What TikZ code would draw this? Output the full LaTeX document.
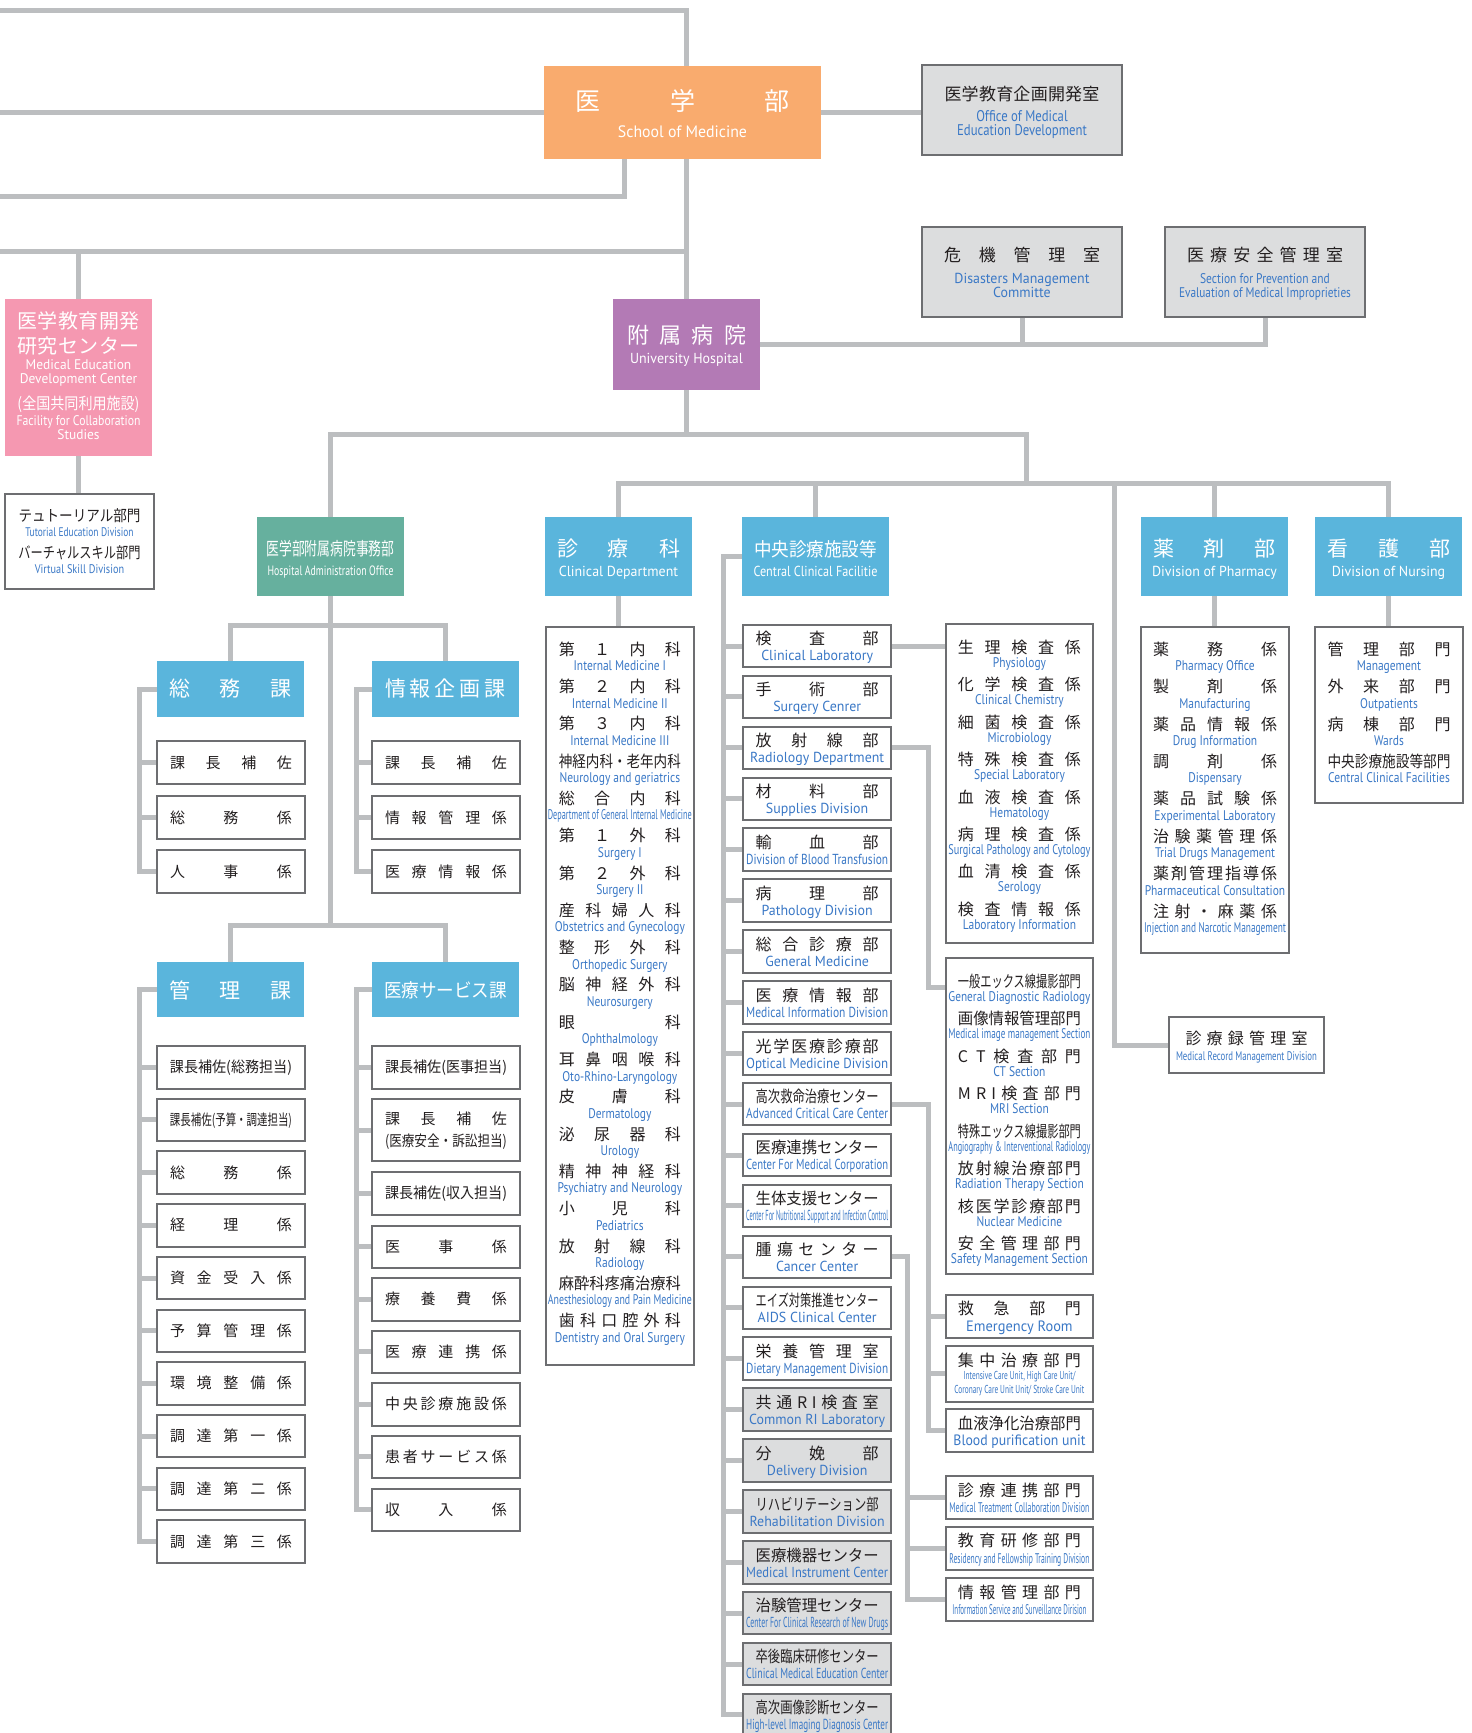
\documentclass[tikz,border=0pt]{standalone}
\usepackage{fontspec}
\usepackage{graphicx}
\setmainfont{Noto Sans CJK JP}
\newfontfamily\en[FakeStretch=0.82]{PT Sans}
\newfontfamily\enw[FakeStretch=0.96]{PT Sans}
\usetikzlibrary{backgrounds}
\definecolor{lineg}{HTML}{BCBEC0}
\definecolor{bordg}{HTML}{6D6E71}
\definecolor{boxg}{HTML}{DCDDDE}
\definecolor{orangec}{HTML}{F9AB6E}
\definecolor{purplec}{HTML}{B37AB5}
\definecolor{pinkc}{HTML}{F598B1}
\definecolor{tealc}{HTML}{66B09E}
\definecolor{blueh}{HTML}{5AB5DC}
\definecolor{etext}{HTML}{3A78C6}
\definecolor{jtext}{HTML}{231F20}
\newsavebox\jbox
\def\spreadloop#1{\ifx\relax#1\else\hfill#1\expandafter\spreadloop\fi}
\def\spreadfirst#1{#1\spreadloop}
\newcommand\jt[2]{\sbox\jbox{#2}\ifdim\wd\jbox<#1\relax\makebox[#1][s]{\expandafter\spreadfirst#2\relax}\else\resizebox{#1}{\height}{\usebox\jbox}\fi}
\newcommand\fitw[2]{\sbox\jbox{#2}\ifdim\wd\jbox>#1\relax\resizebox{#1}{\height}{\usebox\jbox}\else\usebox\jbox\fi}
\newcommand\bxn[6]{\node[#6, minimum width={#4-#2}, minimum height={#5-#3}] (#1) at (#2,#3) {};}
\tikzset{
  conn/.style={draw=lineg, line width=5pt},
  bx/.style={draw=bordg, line width=2pt, fill=white, anchor=north west, inner sep=0pt, outer sep=0pt},
  gbx/.style={bx, fill=boxg},
  hd/.style={fill=#1, draw=none, anchor=north west, inner sep=0pt, outer sep=0pt},
  jp/.style={inner sep=0pt, text=jtext, font=\fontsize{16}{16}\selectfont, text height=14pt, text depth=2pt},
  jps/.style={jp, font=\fontsize{15}{15}\selectfont, text height=13pt, text depth=2pt},
  ent/.style={inner sep=0pt, text=etext, font=\en\fontsize{14}{14}\selectfont, text height=10pt, text depth=3pt},
  enc/.style={ent, font=\enw\fontsize{14.5}{14.5}\selectfont},
  ens/.style={ent, font=\en\fontsize{12.5}{12.5}\selectfont, text height=9pt, text depth=3pt},
  wj/.style={inner sep=0pt, text=white, font=\fontsize{#1}{#1}\selectfont},
  we/.style={inner sep=0pt, text=white, font=\enw\fontsize{#1}{#1}\selectfont, text height=0.7*#1pt, text depth=0.2*#1pt},
}
\begin{document}
\begin{tikzpicture}[x=1pt,y=-1pt]
\useasboundingbox (0,0) rectangle (1472,1733);
% ---------- top level boxes ----------
\bxn{med}{544}{66}{821}{159}{hd=orangec}
\bxn{office}{922}{65}{1122}{155}{gbx}
\bxn{crisis}{922}{226.5}{1122}{317}{gbx}
\bxn{safety}{1165}{226.5}{1365}{317}{gbx}
\bxn{hosp}{613}{299}{760}{389.5}{hd=purplec}
\bxn{pink}{5}{298.5}{152}{455.5}{hd=pinkc}
\bxn{tut}{5}{493.5}{154}{589}{bx}
\bxn{admin}{257}{517}{404}{596}{hd=tealc}
\bxn{clin}{545}{517}{692}{596}{hd=blueh}
\bxn{cent}{742}{517}{889}{596}{hd=blueh}
\bxn{pharm}{1141}{517}{1288}{596}{hd=blueh}
\bxn{nurs}{1315}{517}{1462}{596}{hd=blueh}
\bxn{record}{1169}{1017}{1324}{1073}{bx}
\bxn{clinl}{545.7}{626.6}{694}{1364.5}{bx}
\bxn{rl1}{945.6}{624.4}{1093.3}{943}{bx}
\bxn{rl2}{945.6}{958}{1093.3}{1274}{bx}
\bxn{phl}{1141}{626.6}{1289}{952.6}{bx}
\bxn{nul}{1315}{626.6}{1463}{803}{bx}
\bxn{er1}{945.6}{1294.6}{1093.3}{1337.7}{bx}
\bxn{er2}{945.6}{1345.8}{1093.3}{1401.5}{bx}
\bxn{er3}{945.6}{1409}{1093.3}{1452}{bx}
\bxn{tm1}{945.6}{1476}{1093.3}{1519}{bx}
\bxn{tm2}{945.6}{1526.7}{1093.3}{1570}{bx}
\bxn{tm3}{945.6}{1578}{1093.3}{1621}{bx}
\bxn{soumu}{157}{661}{304}{717}{hd=blueh}
\bxn{joho}{372}{661}{519}{717}{hd=blueh}
\bxn{kanri}{157}{962}{304}{1017}{hd=blueh}
\bxn{iryo}{372}{962}{519}{1017}{hd=blueh}
% ---------- top texts ----------
\node[wj=25] (medj) at (682.5,101) {\jt{214pt}{医学部}};
\node[we=16.5] (mede) at (682.5,133) {School of Medicine};
\node[jp, font=\fontsize{17}{17}\selectfont] (offj) at (1022,94) {\jt{155pt}{医学教育企画開発室}};
\node[ent, font=\en\fontsize{15.5}{15.5}\selectfont] (offe1) at (1022,118) {Office of Medical};
\node[ent, font=\en\fontsize{15.5}{15.5}\selectfont] (offe2) at (1022,132) {Education Development};
\node[jp, font=\fontsize{17}{17}\selectfont] (crj) at (1022,255) {\jt{156pt}{危機管理室}};
\node[ent, font=\enw\fontsize{14.5}{14.5}\selectfont] (cre1) at (1022,280) {Disasters Management};
\node[ent, font=\enw\fontsize{14.5}{14.5}\selectfont] (cre2) at (1022,294) {Committe};
\node[jp, font=\fontsize{17}{17}\selectfont] (sfj) at (1265,255) {\jt{156pt}{医療安全管理室}};
\node[ent, font=\en\fontsize{14}{14}\selectfont] (sfe1) at (1265,280) {Section for Prevention and};
\node[ent, font=\en\fontsize{14}{14}\selectfont] (sfe2) at (1265,294) {\fitw{172pt}{Evaluation of Medical Improprieties}};
\node[wj=22] (hj) at (686.5,335) {\jt{119pt}{附属病院}};
\node[we=14.5] (he) at (686.5,360) {University Hospital};
\node[wj=20] (pj1) at (78.5,321) {\jt{122pt}{医学教育開発}};
\node[wj=20] (pj2) at (78.5,346) {\jt{122pt}{研究センター}};
\node[we=14] (pe1) at (78.5,366) {Medical Education};
\node[we=14] (pe2) at (78.5,380) {Development Center};
\node[wj=16] (pj3) at (78.5,404) {\jt{122pt}{(全国共同利用施設)}};
\node[we=14] (pe3) at (78.5,422) {\fitw{124pt}{Facility for Collaboration}};
\node[we=14] (pe4) at (78.5,436) {Studies};
\node[jp, font=\fontsize{15.5}{15.5}\selectfont] (tj1) at (79.5,515) {\jt{122pt}{テュトーリアル部門}};
\node[ens] (te1) at (79.5,533) {\fitw{108pt}{Tutorial Education Division}};
\node[jp, font=\fontsize{15.5}{15.5}\selectfont] (tj2) at (79.5,552) {\jt{122pt}{バーチャルスキル部門}};
\node[ens] (te2) at (79.5,570) {\fitw{108pt}{Virtual Skill Division}};
\node[wj=18] (aj) at (330.5,549) {\jt{128pt}{医学部附属病院事務部}};
\node[we=13.5] (ae) at (330.5,572.5) {\fitw{126pt}{Hospital Administration Office}};
\node[wj=21] (clj) at (618.5,549) {\jt{123pt}{診療科}};
\node[we=14.5] (cle) at (618.5,572.5) {Clinical Department};
\node[wj=19] (cj) at (815.5,549) {\jt{123pt}{中央診療施設等}};
\node[we=14.5] (ce) at (815.5,572.5) {\fitw{124pt}{Central Clinical Facilitie}};
\node[wj=21] (phj) at (1214.5,549) {\jt{122pt}{薬剤部}};
\node[we=14.5] (phe) at (1214.5,572.5) {Division of Pharmacy};
\node[wj=21] (nj) at (1388.5,549) {\jt{123pt}{看護部}};
\node[we=14.5] (ne) at (1388.5,572.5) {Division of Nursing};
\node[wj=21] (smj) at (230.5,688) {\jt{122pt}{総務課}};
\node[wj=21] (jhj) at (445.5,688) {\jt{121pt}{情報企画課}};
\node[wj=21] (krj) at (230.5,990) {\jt{122pt}{管理課}};
\node[wj=19] (iyj) at (445.5,990) {\jt{123pt}{医療サービス課}};
\node[jp] (rcj) at (1246.5,1038) {\jt{122pt}{診療録管理室}};
\node[ens] (rce) at (1246.5,1057) {\fitw{141pt}{Medical Record Management Division}};
% ---------- admin children ----------
\foreach \t/\txt [count=\i from 0] in {741/課長補佐,796/総務係,850/人事係}{
  \bxn{s\i}{157}{\t}{305}{\t+43}{bx}
  \node[jps] (sj\i) at (231,\t+21.5) {\jt{122pt}{\txt}};
}
\foreach \t/\txt [count=\i from 0] in {741/課長補佐,796/情報管理係,850/医療情報係}{
  \bxn{h\i}{372}{\t}{520}{\t+43}{bx}
  \node[jps] (hj\i) at (446,\t+21.5) {\jt{122pt}{\txt}};
}
\foreach \txt [count=\i from 0] in {課長補佐(総務担当),課長補佐(予算・調達担当),総務係,経理係,資金受入係,予算管理係,環境整備係,調達第一係,調達第二係,調達第三係}{
  \pgfmathsetmacro\t{1046+52.7*\i}
  \bxn{k\i}{157}{\t}{305}{\t+42.5}{bx}
  \node[jps] (kj\i) at (231,\t+21.25) {\jt{122pt}{\txt}};
}
\bxn{rr}{372}{1099}{520}{1161}{bx}
\node[jps] (rrj1) at (446,1119) {\jt{122pt}{課長補佐}};
\node[jps] (rrj2) at (446,1141) {\jt{122pt}{(医療安全・訴訟担当)}};
\foreach \t/\txt [count=\i from 0] in {1046/課長補佐(医事担当),1172/課長補佐(収入担当),1225.5/医事係,1278/療養費係,1330.5/医療連携係,1383/中央診療施設係,1435.5/患者サービス係,1488.5/収入係}{
  \bxn{r\i}{372}{\t}{520}{\t+42.5}{bx}
  \node[jps] (rj\i) at (446,\t+21.25) {\jt{122pt}{\txt}};
}
% ---------- clinical list ----------
\foreach \j/\e [count=\i from 0] in {第１内科/Internal Medicine I,第２内科/Internal Medicine II,第３内科/Internal Medicine III,神経内科・老年内科/Neurology and geriatrics,総合内科/Department of General Internal Medicine,第１外科/Surgery I,第２外科/Surgery II,産科婦人科/Obstetrics and Gynecology,整形外科/Orthopedic Surgery,脳神経外科/Neurosurgery,眼科/Ophthalmology,耳鼻咽喉科/Oto-Rhino-Laryngology,皮膚科/Dermatology,泌尿器科/Urology,精神神経科/Psychiatry and Neurology,小児科/Pediatrics,放射線科/Radiology,麻酔科疼痛治療科/Anesthesiology and Pain Medicine,歯科口腔外科/Dentistry and Oral Surgery}{
  \node[jp] (clj\i) at (619.85,649.2+37.3*\i) {\jt{122pt}{\j}};
  \node[ent] (cle\i) at (619.85,667.2+37.3*\i) {\fitw{144pt}{\e}};
}
% ---------- central column ----------
\foreach \j/\e [count=\i from 0] in {検査部/Clinical Laboratory,手術部/Surqery Cenrer,放射線部/Radiology Department,材料部/Supplies Division,輸血部/Division of Blood Transfusion,病理部/Pathology Division,総合診療部/General Medicine,医療情報部/Medical Information Division,光学医療診療部/Optical Medicine Division,高次救命治療センター/Advanced Critical Care Center,医療連携センター/Center For Medical Corporation,生体支援センター/Center For Nutritional Support and Infection Control,腫瘍センター/Cancer Center,エイズ対策推進センター/AIDS Clinical Center,栄養管理室/Dietary Management Division,共通RI検査室/Common RI Laboratory,分娩部/Delivery Division,リハビリテーション部/Rehabilitation Division,医療機器センター/Medical Instrument Center,治験管理センター/Center For Clinical Research of New Drugs,卒後臨床研修センター/Clinical Medical Education Center,高次画像診断センター/High-level Imaging Diagnosis Center}{
  \pgfmathsetmacro\t{624.8+50.9*\i}
  \ifnum\i>14 \def\fc{boxg}\else\def\fc{white}\fi
  \bxn{cc\i}{743.3}{\t}{891}{\t+42.5}{bx, fill=\fc}
  \node[jp] (ccj\i) at (817.15,\t+14) {\jt{123pt}{\j}};
  \node[enc] (cce\i) at (817.15,\t+32.5) {\fitw{142pt}{\e}};
}
% ---------- right lists ----------
\foreach \j/\e [count=\i from 0] in {生理検査係/Physiology,化学検査係/Clinical Chemistry,細菌検査係/Microbiology,特殊検査係/Special Laboratory,血液検査係/Hematology,病理検査係/Surgical Pathology and Cytology,血清検査係/Serology,検査情報係/Laboratory Information}{
  \node[jp] (aj\i) at (1019.45,647.4+37.4*\i) {\jt{123pt}{\j}};
  \node[ent] (ae\i) at (1019.45,664+37.4*\i) {\fitw{142pt}{\e}};
}
\foreach \j/\e [count=\i from 0] in {一般エックス線撮影部門/General Diagnostic Radiology,画像情報管理部門/Medical image management Section,CT検査部門/CT Section,MRI検査部門/MRI Section,特殊エックス線撮影部門/Angiography \& Interventional Radiology,放射線治療部門/Radiation Therapy Section,核医学診療部門/Nuclear Medicine,安全管理部門/Safety Management Section}{
  \node[jp] (bj\i) at (1019.45,981+37.5*\i) {\jt{123pt}{\j}};
  \node[ent] (be\i) at (1019.45,997.5+37.5*\i) {\fitw{142pt}{\e}};
}
\foreach \j/\e [count=\i from 0] in {薬務係/Pharmacy Office,製剤係/Manufacturing,薬品情報係/Drug Information,調剤係/Dispensary,薬品試験係/Experimental Laboratory,治験薬管理係/Trial Drugs Management,薬剤管理指導係/Pharmaceutical Consultation,注射・麻薬係/Injection and Narcotic Management}{
  \node[jp] (pj\i) at (1215,649.2+37.4*\i) {\jt{124pt}{\j}};
  \node[ent] (pe\i) at (1215,667.2+37.4*\i) {\fitw{142pt}{\e}};
}
\foreach \j/\e [count=\i from 0] in {管理部門/Management,外来部門/Outpatients,病棟部門/Wards,中央診療施設等部門/Central Clinical Facilities}{
  \node[jp] (nj\i) at (1389,649.2+37.4*\i) {\jt{123pt}{\j}};
  \node[ent] (ne\i) at (1389,667.2+37.4*\i) {\fitw{142pt}{\e}};
}
\node[jp] (er1j) at (1019.45,1308.7) {\jt{123pt}{救急部門}};
\node[enc, font=\enw\fontsize{15}{15}\selectfont] (er1e) at (1019.45,1328) {Emergency Room};
\node[jp] (er2j) at (1019.45,1360) {\jt{123pt}{集中治療部門}};
\node[ens, font=\en\fontsize{11.5}{11.5}\selectfont] (er2e1) at (1019.45,1376.5) {\fitw{112pt}{Intensive Care Unit, High Care Unit/}};
\node[ens, font=\en\fontsize{11.5}{11.5}\selectfont] (er2e2) at (1019.45,1390) {\fitw{130pt}{Coronary Care Unit Unit/ Stroke Care Unit}};
\node[jp] (er3j) at (1019.45,1423.4) {\jt{123pt}{血液浄化治療部門}};
\node[enc, font=\enw\fontsize{15}{15}\selectfont] (er3e) at (1019.45,1442) {\fitw{132pt}{Blood purification unit}};
\node[jp] (tm1j) at (1019.45,1490) {\jt{123pt}{診療連携部門}};
\node[ent] (tm1e) at (1019.45,1509) {\fitw{140pt}{Medical Treatment Collaboration Division}};
\node[jp] (tm2j) at (1019.45,1540.7) {\jt{123pt}{教育研修部門}};
\node[ent] (tm2e) at (1019.45,1559.5) {\fitw{140pt}{Residency and Fellowship Training Division}};
\node[jp] (tm3j) at (1019.45,1592) {\jt{123pt}{情報管理部門}};
\node[ent] (tm3e) at (1019.45,1611) {\fitw{134pt}{Information Service and Surveillance Dirision}};
% ---------- connectors ----------
\coordinate (edge) at (-5,0);
\coordinate (ya) at (0,10);
\coordinate (yb) at (0,196.5);
\coordinate (yc) at (0,251);
\coordinate (medleg) at (624,159);
\coordinate (yd) at (0,434);
\coordinate (j1) at (1026,434);
\coordinate (j2) at (1026,483);
\coordinate (j3) at (1114.5,483);
\coordinate (ye) at (0,625);
\coordinate (yf) at (0,925);
\coordinate (bxa) at (139,0);
\coordinate (bxb) at (356,0);
\coordinate (bxc) at (723,0);
\coordinate (bxd) at (928,0);
\coordinate (bxe) at (907,0);
\coordinate (xr) at (945.6,987);
\begin{pgfonlayer}{background}
\draw[conn] (hosp.north |- med.north) |- (edge |- ya);
\draw[conn] (med.west) -- (med.west -| edge);
\draw[conn] (med.east) -- (med.east -| office.west);
\draw[conn] (medleg) |- (edge |- yb);
\draw[conn] (hosp.north |- med.south) -- (hosp.north);
\draw[conn] (hosp.north |- yc) -- (edge |- yc);
\draw[conn] (pink.north) -- (pink.north |- yc);
\draw[conn] (pink.south) -- (pink.south |- tut.north);
\draw[conn] (hosp.east) -| (safety.south);
\draw[conn] (crisis.south) -- (crisis.south |- hosp.east);
\draw[conn] (hosp.south) -- (hosp.south |- yd);
\draw[conn] (admin.north) |- (j1) -- (j2);
\draw[conn] (clin.north) |- (nurs.north |- j2) -- (nurs.north);
\draw[conn] (cent.north) -- (cent.north |- j2);
\draw[conn] (pharm.north) -- (pharm.north |- j2);
\draw[conn] (j3) |- (record.west);
\draw[conn] (admin.south) -- (admin.south |- yf);
\draw[conn] (soumu.north) |- (joho.north |- ye) -- (joho.north);
\draw[conn] (kanri.north) |- (iryo.north |- yf) -- (iryo.north);
\draw[conn] (clin.south) -- (clin.south |- clinl.north);
\draw[conn] (pharm.south) -- (pharm.south |- phl.north);
\draw[conn] (nurs.south) -- (nurs.south |- nul.north);
% brackets
\draw[conn] (soumu.west) -| (bxa |- s2.west) -- (s2.west);
\draw[conn] (joho.west) -| (bxb |- h2.west) -- (h2.west);
\foreach \k in {0,1}{\draw[conn] (s\k.west) -- (s\k.west -| bxa); \draw[conn] (h\k.west) -- (h\k.west -| bxb);}
\draw[conn] (kanri.west) -| (bxa |- k9.west) -- (k9.west);
\foreach \k in {0,...,8}{\draw[conn] (k\k.west) -- (k\k.west -| bxa);}
\draw[conn] (iryo.west) -| (bxb |- r7.west) -- (r7.west);
\draw[conn] (rr.west) -- (rr.west -| bxb);
\foreach \k in {0,...,6}{\draw[conn] (r\k.west) -- (r\k.west -| bxb);}
\draw[conn] (cent.west) -| (bxc |- cc21.west) -- (cc21.west);
\foreach \k in {0,...,20}{\draw[conn] (cc\k.west) -- (cc\k.west -| bxc);}
% right connections
\draw[conn] (cc0.east) -- (cc0.east -| rl1.west);
\draw[conn] (cc2.east) -| (bxd |- xr) -- (xr);
\draw[conn] (cc9.east) -| (bxd |- er3.west) -- (er3.west);
\draw[conn] (er1.west) -- (er1.west -| bxd);
\draw[conn] (er2.west) -- (er2.west -| bxd);
\draw[conn] (cc12.east) -| (bxe |- tm3.west) -- (tm3.west);
\draw[conn] (tm1.west) -- (tm1.west -| bxe);
\draw[conn] (tm2.west) -- (tm2.west -| bxe);
\end{pgfonlayer}
\end{tikzpicture}
\end{document}
